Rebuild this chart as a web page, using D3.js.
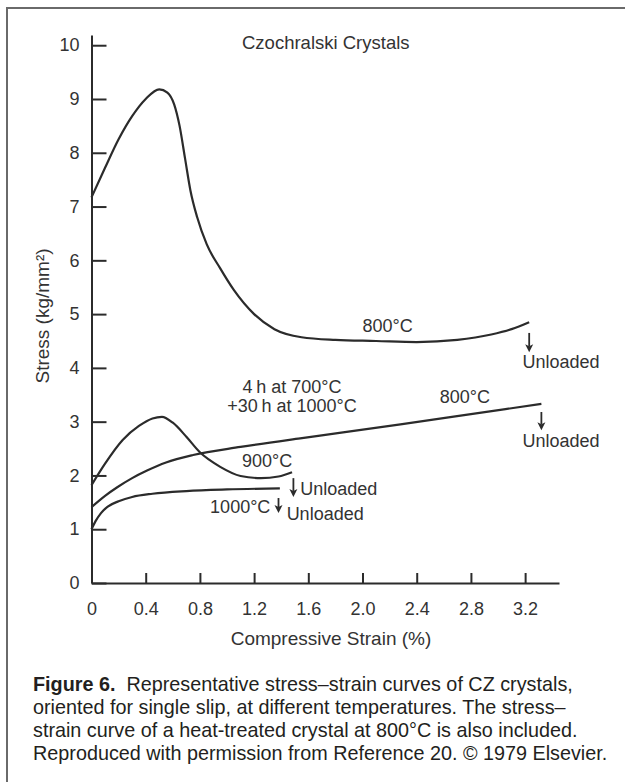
<!DOCTYPE html>
<html>
<head>
<meta charset="utf-8">
<script src="https://cdn.jsdelivr.net/npm/d3@7"></script>
<style>
  body { margin: 0; background: #fff; }
  svg { display: block; }
  text { font-family: "Liberation Sans", Arial, Helvetica, sans-serif; }
</style>
</head>
<body>
<div id="chart"></div>
<script>
// Stress-strain curves of CZ silicon crystals (single slip orientation)

// strain (%) and stress (kg/mm2)
const czStrain800 = [0, 0.1, 0.2, 0.3, 0.4, 0.5, 0.56, 0.61, 0.65, 0.69, 0.73, 0.78, 0.85, 0.95, 1.05, 1.2, 1.35, 1.55, 1.8, 2.1, 2.4, 2.7, 2.95, 3.1, 3.23];
const czStress800 = [7.17, 7.72, 8.25, 8.68, 9.0, 9.18, 9.12, 8.9, 8.5, 7.9, 7.3, 6.8, 6.3, 5.85, 5.45, 5.0, 4.72, 4.57, 4.52, 4.5, 4.48, 4.52, 4.62, 4.72, 4.85];

const htStrain800 = [0, 0.1, 0.19, 0.3, 0.41, 0.55, 0.75, 1.1, 1.54, 1.83, 2.28, 2.8, 3.32];
const htStress800 = [1.41, 1.62, 1.78, 1.95, 2.09, 2.24, 2.38, 2.53, 2.69, 2.79, 2.95, 3.14, 3.33];

const czStrain900 = [0, 0.1, 0.23, 0.35, 0.45, 0.52, 0.6, 0.7, 0.8, 0.95, 1.1, 1.25, 1.38, 1.48];
const czStress900 = [1.82, 2.22, 2.66, 2.92, 3.06, 3.09, 2.98, 2.72, 2.43, 2.16, 1.99, 1.95, 1.98, 2.06];

const czStrain1000 = [0, 0.03, 0.07, 0.12, 0.2, 0.3, 0.45, 0.7, 1.0, 1.39];
const czStress1000 = [1.0, 1.15, 1.3, 1.42, 1.52, 1.6, 1.66, 1.71, 1.74, 1.76];

const xTicks = [0, 0.4, 0.8, 1.2, 1.6, 2.0, 2.4, 2.8, 3.2];
const yTicks = [0, 1, 2, 3, 4, 5, 6, 7, 8, 9, 10];

const curves = [
  { strain: czStrain800, stress: czStress800 },
  { strain: htStrain800, stress: htStress800 },
  { strain: czStrain900, stress: czStress900 },
  { strain: czStrain1000, stress: czStress1000 }
];

// curve labels [strain, stress, text, anchor]
const labels = [
  [2.0, 4.67, "800°C", "start"],
  [3.18, 4.0, "Unloaded", "start"],
  [1.48, 3.53, "4\u2009h at 700°C", "middle"],
  [1.48, 3.18, "+30\u2009h at 1000°C", "middle"],
  [2.57, 3.35, "800°C", "start"],
  [3.18, 2.53, "Unloaded", "start"],
  [1.11, 2.16, "900°C", "start"],
  [1.54, 1.64, "Unloaded", "start"],
  [1.32, 1.30, "1000°C", "end"],
  [1.44, 1.17, "Unloaded", "start"]
];

// unload arrows [strain, stress from, stress to]
const arrows = [
  [3.23, 4.65, 4.29],
  [3.32, 3.18, 2.84],
  [1.49, 1.95, 1.60],
  [1.38, 1.58, 1.30]
];

const captionLines = [
  "oriented for single slip, at different temperatures. The stress–",
  "strain curve of a heat-treated crystal at 800°C is also included.",
  "Reproduced with permission from Reference 20. © 1979 Elsevier."
];

const W = 625, H = 782;
const ink = "#2b2b2b";

const svg = d3.select("#chart").append("svg")
  .attr("width", W).attr("height", H);

svg.append("rect").attr("width", W).attr("height", H).attr("fill", "#fff");

// frame (left + top edges only, the rest is cropped)
svg.append("path")
  .attr("d", `M7,${H} V8 H${W}`)
  .attr("fill", "none")
  .attr("stroke", "#6a6a6a")
  .attr("stroke-width", 2);

const x = d3.scaleLinear().domain([0, 3.45]).range([91.5, 559]);
const y = d3.scaleLinear().domain([0, 10.19]).range([583, 35]);

// axes
const yAxis = d3.axisLeft(y)
  .tickValues(yTicks)
  .tickSizeInner(-15)
  .tickSizeOuter(0)
  .tickPadding(12);

const xAxis = d3.axisBottom(x)
  .tickValues(xTicks)
  .tickSizeInner(-10)
  .tickSizeOuter(0)
  .tickPadding(19)
  .tickFormat(d => d === 0 ? "0" : d3.format(".1f")(d));

const gy = svg.append("g").attr("transform", `translate(${x(0)},0)`).call(yAxis);
const gx = svg.append("g").attr("transform", `translate(0,${y(0)})`).call(xAxis);

[gx, gy].forEach(g => {
  g.select(".domain").attr("stroke", ink).attr("stroke-width", 2);
  g.selectAll(".tick line").attr("stroke", ink).attr("stroke-width", 2);
  g.selectAll(".tick text")
    .attr("fill", "#333")
    .style("font-size", "18px")
    .style("font-family", "'Liberation Sans', Arial, sans-serif");
});
gx.selectAll(".tick").filter(d => d === 0).select("line").remove();

// axis titles
svg.append("text")
  .attr("x", 331).attr("y", 645)
  .attr("text-anchor", "middle")
  .attr("fill", "#333")
  .style("font-size", "19px")
  .text("Compressive Strain (%)");

svg.append("text")
  .attr("transform", "translate(49,316) rotate(-90)")
  .attr("text-anchor", "middle")
  .attr("fill", "#333")
  .style("font-size", "19px")
  .text("Stress (kg/mm²)");

svg.append("text")
  .attr("x", 242).attr("y", 49)
  .attr("fill", "#333")
  .style("font-size", "18.5px")
  .text("Czochralski Crystals");

// curves
const line = d3.line()
  .x(d => x(d[0]))
  .y(d => y(d[1]))
  .curve(d3.curveMonotoneX);

svg.append("g")
  .selectAll("path")
  .data(curves)
  .join("path")
  .attr("d", c => line(c.strain.map((s, i) => [s, c.stress[i]])))
  .attr("fill", "none")
  .attr("stroke", ink)
  .attr("stroke-width", 2.2);

// labels
svg.append("g")
  .selectAll("text")
  .data(labels)
  .join("text")
  .attr("x", d => x(d[0]))
  .attr("y", d => y(d[1]))
  .attr("text-anchor", d => d[3])
  .attr("fill", "#333")
  .style("font-size", "18px")
  .text(d => d[2]);

// unload arrows
const ag = svg.append("g");
arrows.forEach(([s, v0, v1]) => {
  const ax = x(s), y0 = y(v0), y1 = y(v1);
  ag.append("line")
    .attr("x1", ax).attr("x2", ax)
    .attr("y1", y0).attr("y2", y1 - 6)
    .attr("stroke", ink).attr("stroke-width", 1.8);
  ag.append("path")
    .attr("d", `M${ax - 4},${y1 - 8} L${ax},${y1} L${ax + 4},${y1 - 8} L${ax},${y1 - 6} Z`)
    .attr("fill", ink);
});

// caption
const cap = svg.append("g").style("font-size", "19.8px").attr("fill", "#231f20");
const first = cap.append("text").attr("x", 33).attr("y", 691);
first.append("tspan").style("font-weight", "bold").text("Figure 6.");
first.append("tspan").text("\u00a0\u00a0Representative stress–strain curves of CZ crystals,");

cap.selectAll("text.l")
  .data(captionLines)
  .join("text")
  .attr("class", "l")
  .attr("x", 33)
  .attr("y", (d, i) => 714 + i * 23)
  .text(d => d);
</script>
</body>
</html>
